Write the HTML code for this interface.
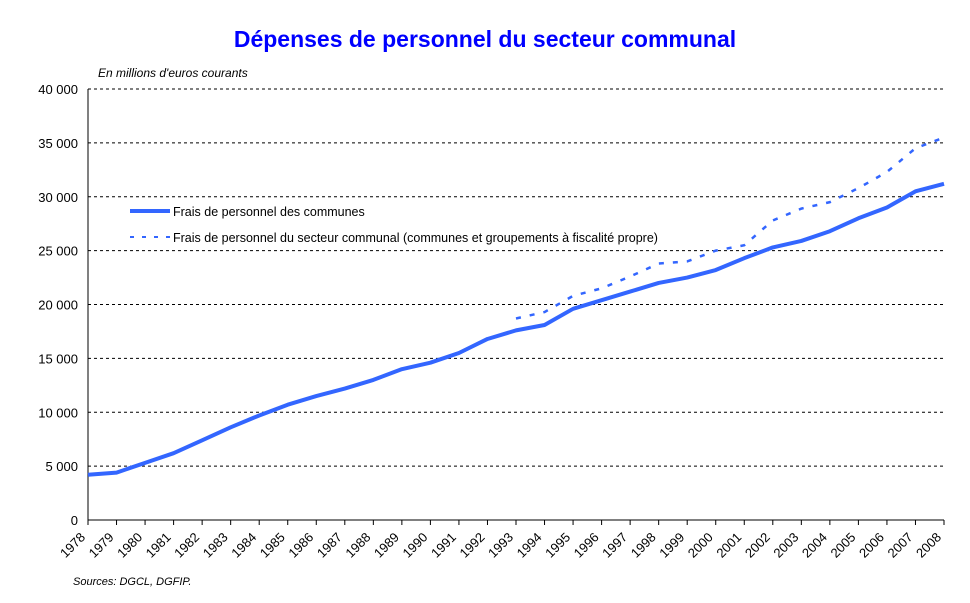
<!DOCTYPE html>
<html><head><meta charset="utf-8"><style>body{margin:0;background:#fff}svg{display:block;font-family:"Liberation Sans",Arial,sans-serif}</style></head>
<body>
<svg id="c" width="970" height="603">
<text x="485" y="47" text-anchor="middle" font-size="23" font-weight="bold" fill="#0000ff">Dépenses de personnel du secteur communal</text>
<text x="98" y="77" font-size="12" font-style="italic">En millions d'euros courants</text>
<text x="73" y="585" font-size="11" font-style="italic">Sources: DGCL, DGFIP.</text>
<g id="grid"></g><g id="axes"></g><g id="series"></g>
<g>
<line x1="130" y1="211" x2="170" y2="211" stroke="#3366ff" stroke-width="4"/>
<text x="173" y="216" font-size="12.5">Frais de personnel des communes</text>
<line x1="130" y1="237" x2="170" y2="237" stroke="#3366ff" stroke-width="2" stroke-dasharray="4,8"/>
<text x="173" y="242" font-size="12.5">Frais de personnel du secteur communal (communes et groupements à fiscalité propre)</text>
</g>
</svg>
<script>
const years=[1978,1979,1980,1981,1982,1983,1984,1985,1986,1987,1988,1989,1990,1991,1992,1993,1994,1995,1996,1997,1998,1999,2000,2001,2002,2003,2004,2005,2006,2007,2008];
const communes=[4200,4400,5300,6200,7400,8600,9700,10700,11500,12200,13000,14000,14600,15500,16800,17600,18100,19600,20400,21200,22000,22500,23200,24300,25300,25900,26800,28000,29000,30500,31200];
const secteurYears=[1993,1994,1995,1996,1997,1998,1999,2000,2001,2002,2003,2004,2005,2006,2007,2008];
const secteur=[18700,19300,20800,21500,22600,23800,24000,25000,25500,27800,28900,29500,30800,32300,34500,35500];
const yTicks=[0,5000,10000,15000,20000,25000,30000,35000,40000];
const NS='http://www.w3.org/2000/svg';
const x0=88,x1=944,y0=520,y1=89;
const X=y=>x0+(y-1978)*(x1-x0)/30;
const Y=v=>y0-v*(y0-y1)/40000;
function mk(t,a,p){const e=document.createElementNS(NS,t);for(const k in a)e.setAttribute(k,a[k]);p.appendChild(e);return e;}
const grid=document.getElementById('grid'),axes=document.getElementById('axes'),ser=document.getElementById('series');
yTicks.forEach(v=>{
 if(v>0){const g=mk('line',{x1:x0,x2:x1,y1:Y(v),y2:Y(v),stroke:'#000','stroke-width':1,'stroke-dasharray':'3,3'},grid);
 
 }
 const t=mk('text',{x:78,y:Y(v)+5,'text-anchor':'end','font-size':13},axes);
 t.textContent=v===0?'0':(v/1000)+' 000';
 
 
});
const ax=mk('path',{d:`M${x0},${y1}V${y0}H${x1}`,stroke:'#000',fill:'none','stroke-width':1},axes);


years.forEach(yr=>{
 const tk=mk('line',{x1:X(yr),x2:X(yr),y1:y0,y2:y0+5,stroke:'#000'},axes);
 
 
 const t=mk('text',{x:X(yr)-2,y:y0+18,'text-anchor':'end','font-size':13,transform:`rotate(-45 ${X(yr)-2} ${y0+18})`},axes);
 t.textContent=yr;
 
 
});
const p1=mk('polyline',{points:years.map((y,i)=>X(y)+','+Y(communes[i])).join(' '),fill:'none',stroke:'#3366ff','stroke-width':4,'stroke-linejoin':'round'},ser);


const p2=mk('polyline',{points:secteurYears.map((y,i)=>X(y)+','+Y(secteur[i])).join(' '),fill:'none',stroke:'#3366ff','stroke-width':2.5,'stroke-dasharray':'5,9'},ser);


</script>
</body></html>
